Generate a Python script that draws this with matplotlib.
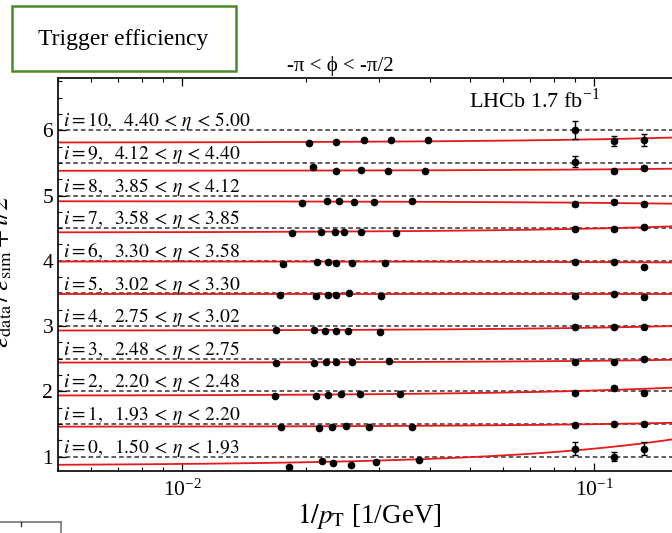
import matplotlib
matplotlib.use("Agg")
import matplotlib.pyplot as plt
import matplotlib.ticker as mticker
from matplotlib.patches import Rectangle
from matplotlib.lines import Line2D
import numpy as np

plt.rcParams['font.family'] = ['Liberation Serif', 'DejaVu Serif']
plt.rcParams['mathtext.fontset'] = 'stix'

# eta bin edges, one row per bin (i = 0..10)
eta_edges = [1.50, 1.93, 2.20, 2.48, 2.75, 3.02, 3.30, 3.58, 3.85, 4.12, 4.40, 5.00]

# 1/pT of the points in each row [1/GeV]
x_pts = [
    [0.0182, 0.0219, 0.0233, 0.0257, 0.0296, 0.0376, 0.090, 0.112, 0.132],
    [0.0174, 0.0215, 0.0231, 0.0250, 0.0284, 0.0361, 0.090, 0.112, 0.132],
    [0.0168, 0.0211, 0.0226, 0.0243, 0.0270, 0.0338, 0.090, 0.112, 0.132],
    [0.0169, 0.0209, 0.0224, 0.0236, 0.0259, 0.0318, 0.090, 0.112, 0.132],
    [0.0169, 0.0209, 0.0222, 0.0236, 0.0253, 0.0303, 0.090, 0.112, 0.132],
    [0.0173, 0.0211, 0.0226, 0.0236, 0.0254, 0.0304, 0.090, 0.112, 0.132],
    [0.0176, 0.0213, 0.0226, 0.0236, 0.0259, 0.0311, 0.090, 0.112, 0.132],
    [0.0185, 0.0218, 0.0235, 0.0247, 0.0272, 0.0331, 0.090, 0.112, 0.132],
    [0.0196, 0.0225, 0.0240, 0.0261, 0.0292, 0.0361, 0.090, 0.112, 0.132],
    [0.0208, 0.0236, 0.0272, 0.0316, 0.0389, 0.090, 0.112, 0.132],
    [0.0203, 0.0236, 0.0276, 0.0322, 0.0396, 0.090, 0.112, 0.132],
]

# efficiency ratio data/sim in each row
ratio = [
    [0.847, 0.939, 0.908, 0.865, 0.923, 0.954, 1.123, 1.000, 1.123],
    [0.959, 0.944, 0.959, 0.975, 0.959, 0.959, 0.990, 1.005, 1.005],
    [0.934, 0.934, 0.949, 0.965, 0.965, 0.965, 0.980, 1.057, 0.980],
    [0.940, 0.940, 0.955, 0.947, 0.955, 0.970, 0.955, 0.955, 1.001],
    [0.945, 0.945, 0.930, 0.930, 0.930, 0.914, 0.991, 0.991, 0.991],
    [0.981, 0.966, 0.981, 0.981, 1.011, 0.966, 0.966, 0.996, 0.950],
    [0.956, 0.986, 0.986, 0.971, 0.971, 0.971, 0.986, 0.986, 0.910],
    [0.930, 0.946, 0.946, 0.946, 0.946, 0.930, 0.992, 0.992, 1.022],
    [0.890, 0.920, 0.920, 0.905, 0.905, 0.920, 0.874, 0.905, 0.874],
    [0.941, 0.880, 0.895, 0.880, 0.880, 1.018, 0.880, 0.926],
    [0.808, 0.824, 0.855, 0.855, 0.855, 1.008, 0.839, 0.855],
]

# uncertainties
ratio_err = [
    [0.01, 0.01, 0.01, 0.01, 0.01, 0.01, 0.10, 0.07, 0.10],
    [0.01, 0.01, 0.01, 0.01, 0.01, 0.01, 0.02, 0.02, 0.02],
    [0.01, 0.01, 0.01, 0.01, 0.01, 0.01, 0.02, 0.02, 0.02],
    [0.01, 0.01, 0.01, 0.01, 0.01, 0.01, 0.02, 0.02, 0.02],
    [0.01, 0.01, 0.01, 0.01, 0.01, 0.01, 0.02, 0.02, 0.02],
    [0.01, 0.01, 0.01, 0.01, 0.01, 0.01, 0.02, 0.02, 0.02],
    [0.01, 0.01, 0.01, 0.01, 0.01, 0.01, 0.02, 0.02, 0.02],
    [0.01, 0.01, 0.01, 0.01, 0.01, 0.01, 0.02, 0.02, 0.02],
    [0.01, 0.01, 0.01, 0.01, 0.01, 0.01, 0.03, 0.02, 0.03],
    [0.01, 0.01, 0.01, 0.01, 0.01, 0.08, 0.03, 0.03],
    [0.01, 0.01, 0.01, 0.01, 0.01, 0.14, 0.08, 0.09],
]

# linear fit in 1/pT: ratio = a + b / pT
fit_a = [0.862, 0.957, 0.933, 0.940, 0.930, 0.985, 0.990, 0.933, 0.913, 0.878, 0.810]
fit_b = [2.60, 0.40, 0.80, 0.28, 0.45, 0.00, -0.10, 0.61, -0.25, 0.21, 0.50]

fig = plt.figure(figsize=(6.72, 5.33), dpi=100)
# axes runs off the right edge of the picture, as in the cropped reference
ax = fig.add_axes([58 / 672, 62 / 533, 660 / 672, 393 / 533])
ax.set_xscale('log')
ax.set_xlim(0.005, 0.2)
ax.set_ylim(0.78, 6.8)

xf = np.logspace(np.log10(0.005), np.log10(0.2), 200)
for i in range(len(eta_edges) - 1):
    off = i / 2
    ax.axhline(1 + off, color='#333333', ls=(0, (3, 2)), lw=1.1, zorder=1)
    ax.plot(xf, fit_a[i] + fit_b[i] * xf + off, color='#e41a1c', lw=1.3, zorder=2)
    ax.errorbar(x_pts[i], np.array(ratio[i]) + off, yerr=ratio_err[i], fmt='o',
                color='black', ms=4.5, elinewidth=1, capsize=2, zorder=3)
    ax.text(0.008, 1 + off + 0.06,
            r'$i = %d,\ \ %.2f\,<\,\eta\,<\,%.2f$' % (i, eta_edges[i], eta_edges[i + 1]),
            fontsize=14, va='baseline', ha='left', transform=ax.get_yaxis_transform())

ax.yaxis.set_major_locator(mticker.MultipleLocator(1))
ax.yaxis.set_minor_locator(mticker.MultipleLocator(0.25))
ax.tick_params(which='both', direction='in', top=True, right=True, labelsize=15.5)
ax.tick_params(which='major', length=6, width=0.9)
ax.tick_params(which='minor', length=3, width=0.8)
ax.tick_params(axis='x', which='major', pad=6)
for s in ax.spines.values():
    s.set_linewidth(1.2)

fig.text(369 / 672, 1 - 516 / 533, r'$1/p_{\mathrm{T}}$ [1/GeV]', fontsize=19.5,
         ha='center', va='center')
fig.text(1 / 672, 0.49, r'$\varepsilon_{\mathrm{data}}\,/\,\varepsilon_{\mathrm{sim}} + i/2$',
         fontsize=19, rotation=90, ha='center', va='center')
fig.text(340 / 672, 1 - 66 / 533, '-π < \u03d5 < -π/2', fontsize=15,
         ha='center', va='center')
ax.text(0.0497, 6.345, r'LHCb 1.7 fb$^{\mathregular{-1}}$', fontsize=16, ha='left', va='baseline')

# title box
fig.add_artist(Rectangle((12 / 672, 1 - 71 / 533), 224 / 672, 65 / 533,
                         transform=fig.transFigure, fill=False, edgecolor='#4a8a2a', lw=1.8))
fig.text(123 / 672, 1 - 39 / 533, 'Trigger efficiency', fontsize=17, ha='center', va='center')

# corner of the next panel below
fig.add_artist(Line2D([0, 61 / 672], [11 / 533, 11 / 533], transform=fig.transFigure,
                      color='#777777', lw=1.2))
fig.add_artist(Line2D([61 / 672, 61 / 672], [0, 11 / 533], transform=fig.transFigure,
                      color='#777777', lw=1.2))
fig.add_artist(Line2D([21 / 672, 21 / 672], [7 / 533, 11 / 533], transform=fig.transFigure,
                      color='#333333', lw=1))

fig.savefig('out.png', dpi=100)
